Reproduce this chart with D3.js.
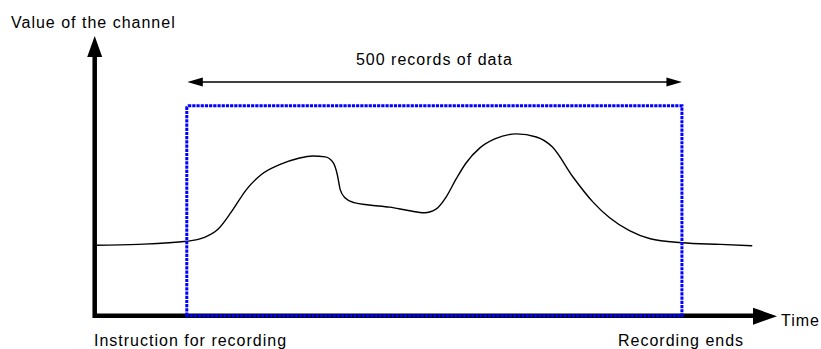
<!DOCTYPE html>
<html>
<head>
<meta charset="utf-8">
<script src="https://cdn.jsdelivr.net/npm/d3@7"></script>
<style>
  html, body { margin: 0; padding: 0; background: #fff; }
  svg text { font-family: "Liberation Sans", Arial, sans-serif; font-size: 16px; letter-spacing: 1px; fill: #000; }
</style>
</head>
<body>
<svg id="chart" width="821" height="349"></svg>
<script>
// ---- data (record index vs. channel value) ----
const recordIndex = [-93, -49, 0, 17, 32, 45, 60, 75, 93, 113, 127, 140, 148, 152, 155, 160, 169, 184, 205, 225, 240, 252, 262, 272, 282, 296, 311, 333, 353, 369, 390, 410, 427, 447, 468, 500, 539, 571];
const channelValue = [25.2, 25.5, 26.6, 27.9, 31.1, 37.1, 45, 50.4, 53.9, 56.3, 57.1, 56.8, 54.6, 50.4, 45, 42.1, 40.4, 39.6, 38.8, 37.5, 36.8, 38.2, 42.5, 48.9, 54.6, 60, 63.2, 65, 63.9, 60.4, 49.6, 40.7, 35, 30.4, 27.5, 26.1, 25.5, 25];
const recordWindow = [0, 500];
const axisExtentX = [-93, 596];
const axisExtentY = [0, 100];
const labels = {
  yTitle: "Value of the channel",
  xTitle: "Time",
  span: "500 records of data",
  start: "Instruction for recording",
  end: "Recording ends"
};

const svg = d3.select("#chart");
const x = d3.scaleLinear().domain(axisExtentX).range([94.7, 777]);
const y = d3.scaleLinear().domain(axisExtentY).range([315.7, 36]);

// axes with arrowheads
const x0 = x(axisExtentX[0]), y0 = y(0);
svg.append("path")
  .attr("d", `M${x0},${y(axisExtentY[1]) + 20} L${x0},${y0} L${x(axisExtentX[1]) - 22},${y0}`)
  .attr("fill", "none").attr("stroke", "#000").attr("stroke-width", 4.5)
  .attr("stroke-linejoin", "miter").attr("stroke-linecap", "butt");
const yt = y(axisExtentY[1]);
svg.append("path")
  .attr("d", `M${x0},${yt} L${x0 - 7.5},${yt + 21} L${x0 + 7.5},${yt + 21} Z`)
  .attr("fill", "#000");
const xt = x(axisExtentX[1]);
svg.append("path")
  .attr("d", `M${xt},${y0 + 0.5} L${xt - 24},${y0 - 8} L${xt - 24},${y0 + 9} Z`)
  .attr("fill", "#000");

// the signal curve
const line = d3.line()
  .x((d, i) => x(recordIndex[i]))
  .y(d => y(d))
  .curve(d3.curveMonotoneX);
svg.append("path")
  .datum(channelValue)
  .attr("d", line)
  .attr("fill", "none").attr("stroke", "#000").attr("stroke-width", 1.4);

// recording window (blue dotted rectangle)
const rx0 = x(recordWindow[0]), rx1 = x(recordWindow[1]);
const ry0 = 105.8;
svg.append("path")
  .attr("d", `M${rx0},${y0} L${rx0},${ry0 + 2} Q${rx0},${ry0} ${rx0 + 2},${ry0} L${rx1},${ry0} L${rx1},${y0} Z`)
  .attr("fill", "none").attr("stroke", "#0000ff").attr("stroke-width", 3)
  .attr("stroke-dasharray", "3.2,1");

// double arrow
const ay = 82;
svg.append("line")
  .attr("x1", rx0 + 10).attr("x2", rx1 - 10).attr("y1", ay).attr("y2", ay)
  .attr("stroke", "#000").attr("stroke-width", 1.3);
svg.append("path")
  .attr("d", `M${rx0 + 0.5},${ay} L${rx0 + 16},${ay - 4.5} L${rx0 + 16},${ay + 4.5} Z`)
  .attr("fill", "#000");
svg.append("path")
  .attr("d", `M${rx1},${ay} L${rx1 - 15.5},${ay - 4.5} L${rx1 - 15.5},${ay + 4.5} Z`)
  .attr("fill", "#000");

// texts
svg.append("text").attr("x", 11).attr("y", 28).text(labels.yTitle);
svg.append("text").attr("x", (rx0 + rx1) / 2).attr("y", 65).attr("text-anchor", "middle").text(labels.span);
svg.append("text").attr("x", xt + 4).attr("y", y0 + 6).attr("dominant-baseline", "middle").text(labels.xTitle);
svg.append("text").attr("x", 94).attr("y", 346).text(labels.start);
svg.append("text").attr("x", 618).attr("y", 346).text(labels.end);
</script>
</body>
</html>
